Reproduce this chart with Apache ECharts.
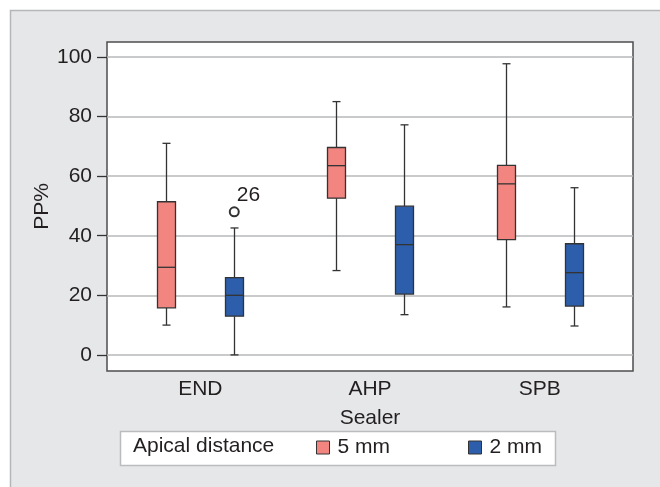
<!DOCTYPE html>
<html>
<head>
<meta charset="utf-8">
<script src="https://cdn.jsdelivr.net/npm/echarts@6/dist/echarts.min.js"></script>
<style>
  html, body { margin: 0; padding: 0; background: #fff; }
  #chart { width: 660px; height: 487px; }
</style>
</head>
<body>
<div id="chart"></div>
<script>
// sealers on the x axis
var categories = ["END", "AHP", "SPB"];
var yTicks = [0, 20, 40, 60, 80, 100];
// [min, Q1, median, Q3, max] per sealer
var box5mm = [
  [10, 15.8, 29.4, 51.4, 71],
  [28.3, 52.6, 63.5, 69.6, 85],
  [16.1, 38.7, 57.4, 63.6, 97.7]
];
var box2mm = [
  [0, 13, 20, 25.9, 42.6],
  [13.5, 20.4, 37, 49.9, 77.2],
  [9.7, 16.4, 27.6, 37.3, 56.1]
];
// outlier: [sealer index, value, case label]
var outliers2mm = [[0, 48, "26"]];

var FONT = "'Liberation Sans', Arial, sans-serif";
var TXT = "#231f20";
var PINK = "#f38580";
var BLUE = "#2c5eab";
var OFFSET = 0.2;
var FS = 21;

function toData(arr, off) {
  return arr.map(function (d, i) {
    return [i + off].concat(d);
  });
}

function renderBox(params, api) {
  var x = api.value(0);
  var lo = api.coord([x, api.value(1)]);
  var q1 = api.coord([x, api.value(2)]);
  var med = api.coord([x, api.value(3)]);
  var q3 = api.coord([x, api.value(4)]);
  var hi = api.coord([x, api.value(5)]);
  var cx = Math.round(lo[0]) + 0.5;
  var bw = 18, cw = 8;
  var line = { stroke: "#333", lineWidth: 1.3 };
  var fill = api.visual("color");
  return {
    type: "group",
    children: [
      { type: "line", shape: { x1: cx, y1: hi[1], x2: cx, y2: q3[1] }, style: line },
      { type: "line", shape: { x1: cx, y1: q1[1], x2: cx, y2: lo[1] }, style: line },
      { type: "line", shape: { x1: cx - cw / 2, y1: hi[1], x2: cx + cw / 2, y2: hi[1] }, style: line },
      { type: "line", shape: { x1: cx - cw / 2, y1: lo[1], x2: cx + cw / 2, y2: lo[1] }, style: line },
      { type: "rect", shape: { x: cx - bw / 2, y: q3[1], width: bw, height: q1[1] - q3[1] },
        style: { fill: fill, stroke: "#333", lineWidth: 1.3 } },
      { type: "line", shape: { x1: cx - bw / 2, y1: med[1], x2: cx + bw / 2, y2: med[1] }, style: line }
    ]
  };
}

var myChart = echarts.init(document.getElementById("chart"));

var option = {
  backgroundColor: "#fff",
  animation: false,
  textStyle: { fontFamily: FONT, color: TXT },
  graphic: [
    {
      type: "rect", z: -10,
      shape: { x: 10.5, y: 10.5, width: 670, height: 490 },
      style: { fill: "#e6e7e9", stroke: "#b5b6b8", lineWidth: 1.5 }
    },
    {
      type: "rect", z: 1,
      shape: { x: 120.5, y: 431.5, width: 435, height: 34 },
      style: { fill: "#fff", stroke: "#bbbcbe", lineWidth: 1.5 }
    },
    {
      type: "text", z: 2, left: 133, top: 436,
      style: { text: "Apical distance", fontSize: FS, fontFamily: FONT, fill: TXT }
    }
  ],
  legend: {
    left: 316,
    top: 437,
    padding: 0,
    itemWidth: 13,
    itemHeight: 13,
    itemGap: 78,
    icon: "rect",
    textStyle: { fontSize: FS, fontFamily: FONT, color: TXT, padding: [0, 0, 0, 3] },
    data: [
      { name: "5 mm", itemStyle: { color: PINK, borderColor: "#333", borderWidth: 1 } },
      { name: "2 mm", itemStyle: { color: BLUE, borderColor: "#333", borderWidth: 1 } }
    ]
  },
  grid: {
    left: 107, right: 27, top: 42, bottom: 116,
    show: true,
    backgroundColor: "#fff",
    borderColor: "#4d4d4f",
    borderWidth: 1.5
  },
  xAxis: {
    type: "value",
    min: -0.55,
    max: 2.55,
    name: "Sealer",
    nameLocation: "middle",
    nameGap: 37,
    nameMoveOverlap: false,
    nameTextStyle: { fontSize: FS, fontFamily: FONT, color: TXT },
    axisLine: { show: false, onZero: false },
    axisTick: { show: false },
    splitLine: { show: false },
    axisLabel: {
      customValues: [0, 1, 2],
      fontSize: FS, fontFamily: FONT, color: TXT, margin: 8,
      formatter: function (v) { return categories[Math.round(v)]; }
    }
  },
  yAxis: {
    type: "value",
    min: -5.4,
    max: 105,
    name: "PP%",
    nameLocation: "middle",
    nameGap: 54,
    nameMoveOverlap: false,
    nameTextStyle: { fontSize: FS, fontFamily: FONT, color: TXT },
    axisLine: { show: false, onZero: false },
    axisTick: { show: true, customValues: yTicks, length: 10, lineStyle: { color: "#333", width: 1.3 } },
    axisLabel: { customValues: yTicks, fontSize: FS, fontFamily: FONT, color: TXT, margin: 15 },
    splitLine: { show: true, lineStyle: { color: "#b7b8ba", width: 1.5 } }
  },
  series: [
    {
      name: "5 mm",
      type: "custom",
      renderItem: renderBox,
      itemStyle: { color: PINK },
      encode: { x: 0, y: [1, 2, 3, 4, 5] },
      data: toData(box5mm, -OFFSET)
    },
    {
      name: "2 mm",
      type: "custom",
      renderItem: renderBox,
      itemStyle: { color: BLUE },
      encode: { x: 0, y: [1, 2, 3, 4, 5] },
      data: toData(box2mm, OFFSET)
    },
    {
      name: "outlier",
      type: "scatter",
      symbol: "emptyCircle",
      symbolSize: 9,
      itemStyle: { color: "#333", borderColor: "#333", borderWidth: 1.4, opacity: 1 },
      label: {
        show: true,
        position: [8, -22],
        fontSize: FS,
        fontFamily: FONT,
        color: TXT,
        textBorderWidth: 0,
        formatter: function (p) { return p.data[2]; }
      },
      data: outliers2mm.map(function (o) { return [o[0] + OFFSET, o[1], o[2]]; })
    }
  ]
};

myChart.setOption(option);
window.addEventListener("resize", function () {
  myChart.resize();
});
</script>
</body>
</html>
